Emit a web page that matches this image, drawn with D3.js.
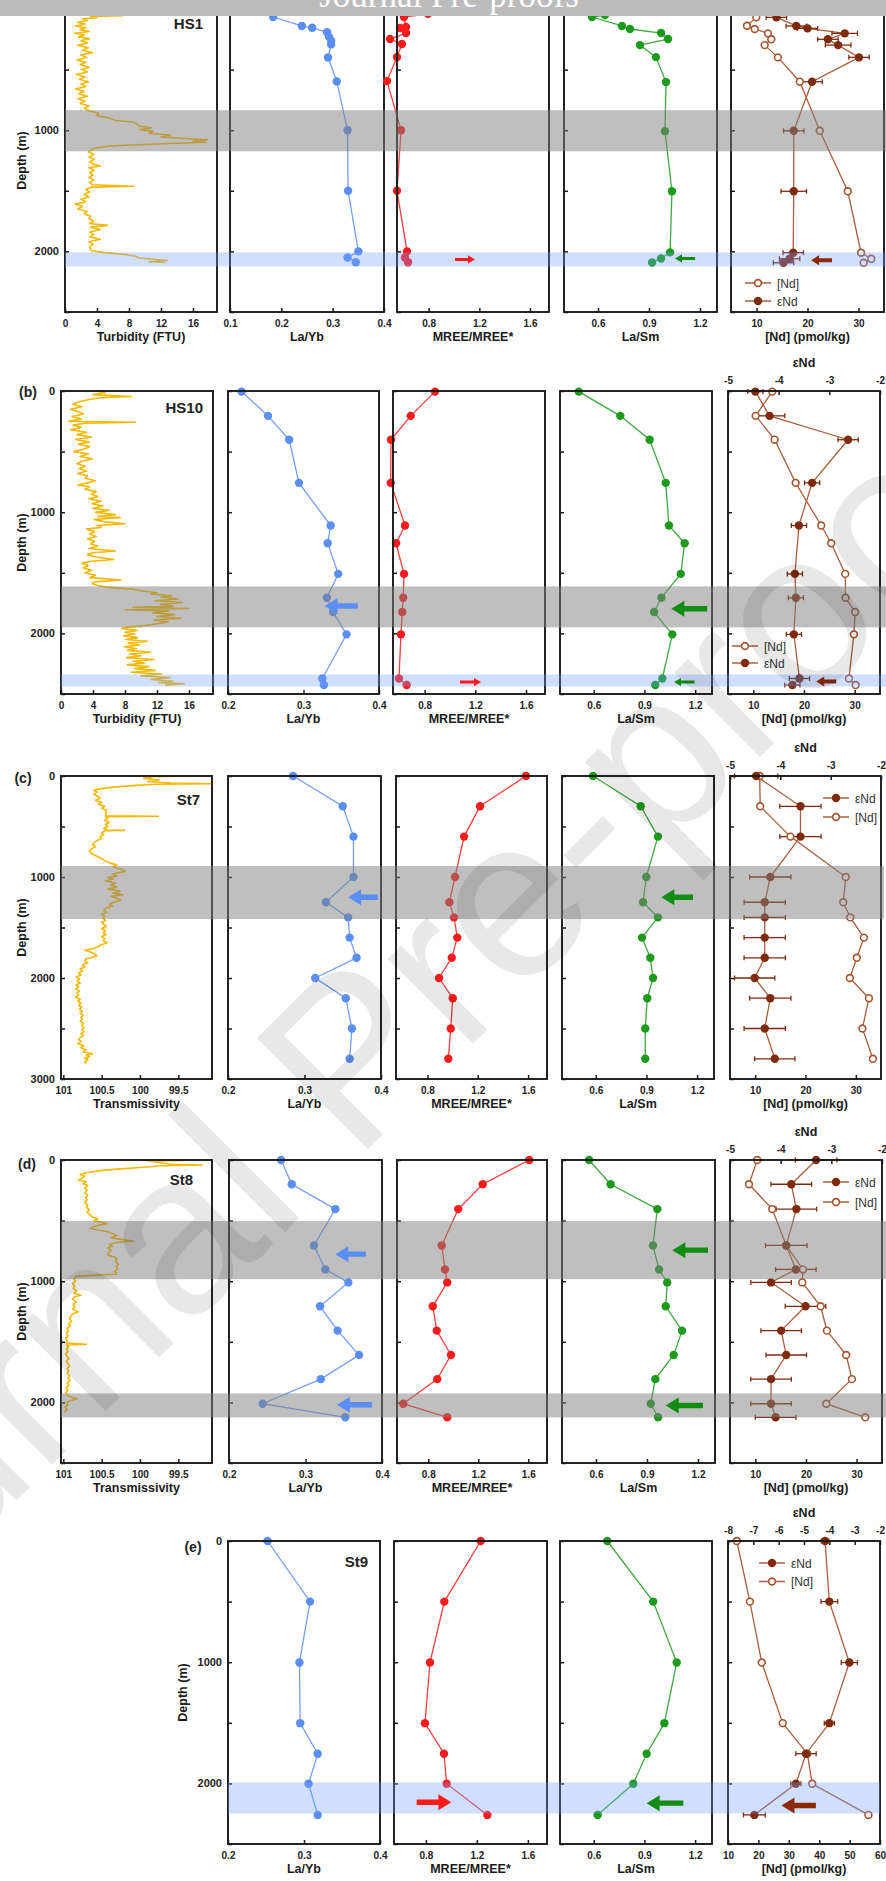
<!DOCTYPE html>
<html>
<head>
<meta charset="utf-8">
<script src="https://cdn.jsdelivr.net/npm/d3@7"></script>
<style>
  body { margin: 0; background: #fff; }
  svg { display: block; font-family: Arial, "Liberation Sans", sans-serif; }
  .tick text { font-size: 10px; font-weight: bold; fill: #222; }
  .tick line { stroke: #1a1a1a; stroke-width: 1.5; }
  .depthAxis .tick text { font-size: 11px; }
  .axTitle { font-size: 12.5px; font-weight: bold; fill: #1a1a1a; }
  .station { font-size: 15px; font-weight: bold; fill: #222; }
  .rowLabel { font-size: 14px; font-weight: bold; fill: #222; }
  .legendText { font-size: 12px; fill: #333; }
</style>
</head>
<body>
<svg id="chart" width="886" height="1881"></svg>
<script>
(function () {
  'use strict';

  // ---------- CTD profiles: [depth (m), value] ----------
  const hs1Turbidity = [[20,3.0],[45,4.2],[55,7.2],[62,3.2],[70,4.0],[80,2.2],[95,2.8],[110,1.6],[125,2.5],[140,1.3],[155,2.6],[170,1.9],[185,3.0],[200,1.2],[215,2.4],[230,1.7],[245,3.1],[260,2.0],[280,2.8],[300,1.6],[320,2.9],[340,2.2],[360,3.4],[380,2.0],[400,2.7],[420,1.5],[440,2.6],[460,1.9],[480,3.0],[500,2.1],[520,2.8],[540,1.4],[560,2.5],[580,1.8],[600,2.9],[620,2.0],[640,2.6],[660,1.3],[680,2.4],[700,1.7],[720,2.8],[740,1.6],[760,2.5],[780,1.9],[800,3.0],[820,2.4],[840,3.0],[860,4.2],[880,4.0],[900,5.5],[920,6.4],[935,8.6],[950,9.0],[965,9.2],[980,10.8],[995,9.4],[1010,11.0],[1025,10.5],[1040,13.2],[1055,12.0],[1070,15.5],[1080,17.8],[1090,16.0],[1100,17.6],[1110,13.0],[1120,9.0],[1130,5.5],[1145,4.0],[1160,3.3],[1180,2.9],[1200,3.6],[1220,3.0],[1240,3.7],[1260,3.1],[1280,3.5],[1295,4.4],[1310,3.0],[1330,3.6],[1350,3.1],[1370,3.5],[1390,3.0],[1410,3.6],[1430,3.1],[1450,3.4],[1463,8.6],[1470,3.3],[1490,2.6],[1510,3.1],[1530,2.4],[1550,3.0],[1570,2.0],[1590,2.6],[1610,1.3],[1630,2.2],[1650,1.6],[1670,2.8],[1690,2.4],[1710,3.2],[1730,3.0],[1750,3.6],[1770,3.1],[1785,5.3],[1800,3.2],[1820,4.4],[1840,3.1],[1860,3.6],[1880,3.1],[1900,4.4],[1920,3.0],[1940,3.5],[1960,3.1],[1980,3.2],[1995,3.3],[2010,5.0],[2025,7.5],[2040,8.8],[2055,9.3],[2065,11.0],[2075,12.8],[2085,10.5],[2092,12.5]];

  const hs10Turbidity = [[0,4.5],[15,5.5],[30,4.0],[45,8.8],[55,5.0],[70,3.5],[90,2.2],[110,1.5],[130,2.6],[150,1.2],[170,2.0],[190,2.8],[210,1.4],[230,2.5],[250,1.0],[258,9.3],[266,3.0],[280,1.5],[300,2.5],[320,1.2],[340,3.2],[360,2.0],[380,3.8],[400,1.8],[420,3.5],[440,2.2],[460,3.6],[480,2.8],[500,1.6],[520,3.4],[540,2.4],[560,3.9],[580,2.6],[600,2.0],[620,3.0],[640,2.3],[660,3.2],[680,2.1],[700,3.3],[720,3.0],[740,4.3],[760,3.2],[775,2.1],[790,3.6],[810,3.0],[830,4.4],[850,3.8],[870,4.6],[890,3.5],[910,5.0],[930,3.9],[950,5.2],[970,4.0],[985,6.0],[1000,4.3],[1020,6.8],[1035,4.6],[1045,7.4],[1060,4.1],[1080,5.5],[1095,8.0],[1110,4.5],[1125,5.0],[1140,3.2],[1160,4.2],[1180,3.6],[1200,4.4],[1220,3.3],[1240,4.2],[1260,3.7],[1280,4.6],[1300,3.5],[1320,6.8],[1335,4.0],[1350,3.3],[1370,4.4],[1390,6.6],[1405,3.8],[1420,2.6],[1440,3.4],[1460,2.8],[1480,3.8],[1500,3.0],[1520,4.3],[1540,3.6],[1560,7.5],[1575,4.2],[1590,3.9],[1605,4.6],[1620,6.0],[1635,9.0],[1650,10.2],[1665,12.0],[1675,11.2],[1690,13.8],[1700,12.5],[1715,14.6],[1730,11.8],[1745,15.2],[1760,12.4],[1775,14.0],[1785,9.0],[1795,16.0],[1805,8.0],[1815,13.5],[1830,11.5],[1845,14.2],[1860,12.0],[1875,15.0],[1890,11.6],[1905,13.4],[1920,12.0],[1935,10.5],[1950,8.2],[1960,7.6],[1975,9.5],[1990,8.0],[2005,9.2],[2020,7.8],[2035,9.6],[2050,8.1],[2065,10.8],[2080,8.4],[2095,9.8],[2110,7.9],[2125,9.4],[2140,8.3],[2155,11.2],[2170,8.6],[2185,10.0],[2200,8.2],[2215,11.6],[2230,9.0],[2245,10.4],[2260,8.3],[2275,11.0],[2290,9.2],[2305,11.8],[2320,8.8],[2335,12.6],[2350,10.0],[2365,13.6],[2380,11.2],[2395,14.0],[2405,12.2],[2415,15.4],[2425,13.0]];

  const st7Transmissivity = [[0,100.13],[3,99.45],[8,99.95],[15,99.85],[25,99.95],[40,99.75],[55,99.9],[70,99.6],[76,99.08],[82,99.8],[95,100.1],[110,100.35],[125,100.5],[140,100.6],[160,100.56],[180,100.6],[200,100.55],[220,100.52],[240,100.58],[260,100.5],[280,100.54],[300,100.46],[320,100.5],[340,100.44],[395,100.45],[399,99.76],[403,100.45],[420,100.42],[440,100.46],[460,100.4],[480,100.45],[500,100.42],[520,100.47],[535,100.43],[538,100.2],[541,100.45],[560,100.5],[580,100.47],[600,100.52],[620,100.5],[640,100.56],[660,100.6],[680,100.62],[700,100.58],[720,100.63],[740,100.66],[760,100.64],[780,100.6],[800,100.55],[820,100.5],[840,100.45],[860,100.4],[880,100.3],[900,100.35],[920,100.25],[944,100.19],[960,100.3],[975,100.36],[990,100.3],[1005,100.42],[1020,100.35],[1040,100.45],[1060,100.32],[1080,100.38],[1100,100.3],[1120,100.42],[1140,100.26],[1160,100.35],[1175,100.22],[1190,100.38],[1210,100.3],[1230,100.25],[1250,100.34],[1270,100.4],[1290,100.36],[1310,100.45],[1330,100.47],[1350,100.43],[1370,100.5],[1390,100.46],[1410,100.48],[1430,100.45],[1450,100.5],[1470,100.47],[1490,100.44],[1510,100.5],[1530,100.45],[1550,100.48],[1570,100.44],[1590,100.5],[1610,100.46],[1630,100.48],[1650,100.43],[1670,100.5],[1690,100.55],[1710,100.62],[1726,100.72],[1740,100.65],[1760,100.6],[1780,100.56],[1795,100.62],[1810,100.7],[1830,100.72],[1850,100.68],[1870,100.75],[1890,100.72],[1910,100.78],[1930,100.75],[1950,100.8],[1970,100.77],[1990,100.83],[2010,100.79],[2030,100.82],[2050,100.78],[2070,100.83],[2090,100.8],[2110,100.84],[2130,100.79],[2150,100.82],[2170,100.8],[2190,100.84],[2210,100.78],[2230,100.81],[2250,100.77],[2270,100.8],[2290,100.76],[2310,100.79],[2330,100.75],[2350,100.78],[2370,100.74],[2390,100.77],[2410,100.75],[2430,100.78],[2450,100.74],[2470,100.76],[2490,100.73],[2510,100.76],[2530,100.73],[2550,100.77],[2570,100.74],[2590,100.78],[2610,100.8],[2630,100.76],[2650,100.81],[2670,100.73],[2690,100.77],[2710,100.7],[2730,100.74],[2750,100.62],[2765,100.7],[2780,100.66],[2795,100.72],[2810,100.68],[2830,100.72],[2845,100.7]];

  const st8Transmissivity = [[0,100.04],[3,99.43],[8,99.9],[20,99.75],[35,99.6],[41,99.19],[48,99.7],[60,99.95],[75,100.3],[90,100.55],[105,100.7],[120,100.78],[135,100.72],[150,100.76],[165,100.8],[180,100.7],[195,100.74],[210,100.68],[230,100.72],[250,100.69],[270,100.72],[290,100.68],[310,100.71],[330,100.69],[350,100.72],[370,100.68],[390,100.7],[410,100.66],[430,100.69],[450,100.66],[470,100.62],[485,100.55],[500,100.6],[515,100.48],[525,100.43],[540,100.55],[555,100.62],[565,100.65],[580,100.52],[595,100.4],[610,100.35],[625,100.3],[640,100.38],[655,100.25],[668,100.09],[680,100.3],[695,100.4],[710,100.36],[725,100.42],[740,100.38],[760,100.4],[785,100.42],[800,100.33],[820,100.3],[840,100.32],[860,100.28],[880,100.31],[900,100.29],[920,100.33],[940,100.3],[950,100.55],[960,100.83],[980,100.86],[1000,100.84],[1020,100.88],[1040,100.85],[1060,100.87],[1080,100.83],[1100,100.86],[1116,100.77],[1130,100.86],[1150,100.88],[1170,100.83],[1190,100.87],[1210,100.85],[1230,100.88],[1253,100.8],[1270,100.88],[1290,100.9],[1310,100.92],[1330,100.89],[1350,100.93],[1370,100.91],[1390,100.95],[1410,100.93],[1430,100.96],[1450,100.94],[1470,100.97],[1490,100.95],[1510,100.96],[1520,100.7],[1526,100.96],[1540,100.93],[1560,100.96],[1580,100.94],[1600,100.97],[1620,100.95],[1640,100.93],[1660,100.96],[1680,100.94],[1700,100.92],[1720,100.95],[1740,100.93],[1760,100.95],[1780,100.92],[1800,100.94],[1820,100.91],[1840,100.95],[1860,100.93],[1880,100.96],[1900,100.94],[1920,100.97],[1940,100.95],[1955,100.9],[1970,100.82],[1985,100.9],[2000,100.96],[2020,100.94],[2040,100.98],[2060,100.95],[2080,100.99]];

  // ---------- REE ratios: [depth (m), value] ----------
  const hs1LaYb  = [[20,0.215],[66,0.184],[140,0.240],[155,0.260],[192,0.289],[230,0.293],[262,0.297],[292,0.297],[400,0.291],[598,0.308],[1000,0.329],[1500,0.330],[2000,0.350],[2050,0.329],[2090,0.345]];
  const hs1Mree  = [[40,0.795],[66,0.605],[149,0.621],[157,0.574],[198,0.621],[248,0.495],[289,0.589],[397,0.550],[595,0.471],[1000,0.582],[1500,0.550],[2000,0.629],[2050,0.613],[2090,0.637]];
  const hs1LaSm  = [[50,0.641],[66,0.565],[140,0.741],[165,0.788],[198,0.971],[248,1.012],[298,0.847],[397,0.941],[603,1.000],[1008,0.994],[1504,1.035],[2008,1.024],[2058,0.971],[2091,0.918]];

  const hs10LaYb = [[5,0.218],[205,0.253],[402,0.281],[758,0.294],[1110,0.336],[1256,0.332],[1509,0.346],[1706,0.331],[1824,0.339],[2008,0.357],[2372,0.325],[2426,0.327]];
  const hs10Mree = [[5,0.882],[205,0.690],[402,0.534],[758,0.532],[1110,0.645],[1256,0.574],[1509,0.637],[1706,0.631],[1824,0.623],[2008,0.613],[2372,0.597],[2426,0.658]];
  const hs10LaSm = [[5,0.511],[205,0.757],[402,0.931],[758,1.026],[1110,1.045],[1256,1.138],[1509,1.115],[1706,1.000],[1824,0.957],[2008,1.065],[2372,1.006],[2426,0.964]];

  const st7LaYb  = [[0,0.285],[300,0.350],[600,0.364],[1000,0.364],[1250,0.328],[1400,0.357],[1600,0.359],[1800,0.368],[2000,0.314],[2200,0.354],[2500,0.362],[2800,0.359]];
  const st7Mree  = [[0,1.583],[300,1.218],[600,1.091],[1000,1.019],[1250,0.974],[1400,1.011],[1600,1.037],[1800,0.993],[2000,0.892],[2200,1.001],[2500,0.985],[2800,0.966]];
  const st7LaSm  = [[0,0.584],[300,0.866],[600,0.968],[1000,0.899],[1250,0.880],[1400,0.968],[1600,0.874],[1800,0.923],[2000,0.939],[2200,0.905],[2500,0.893],[2800,0.893]];

  const st8LaYb  = [[0,0.268],[200,0.282],[405,0.339],[705,0.311],[903,0.326],[1010,0.356],[1207,0.319],[1408,0.342],[1609,0.370],[1808,0.320],[2011,0.244],[2123,0.352]];
  const st8Mree  = [[0,1.608],[200,1.236],[405,1.040],[705,0.908],[903,0.934],[1010,0.952],[1207,0.836],[1408,0.868],[1609,0.982],[1808,0.872],[2011,0.600],[2123,0.952]];
  const st8LaSm  = [[0,0.559],[200,0.686],[405,0.961],[705,0.935],[903,0.971],[1010,1.019],[1207,1.010],[1408,1.106],[1609,1.057],[1808,0.949],[2011,0.922],[2123,0.965]];

  const st9LaYb  = [[0,0.252],[500,0.308],[1003,0.294],[1503,0.295],[1755,0.318],[2003,0.306],[2260,0.318]];
  const st9Mree  = [[0,1.230],[500,0.945],[1003,0.832],[1503,0.793],[1755,0.942],[2003,0.963],[2260,1.282]];
  const st9LaSm  = [[0,0.680],[500,0.952],[1003,1.091],[1503,1.018],[1755,0.913],[2003,0.834],[2260,0.623]];

  // ---------- [Nd] (pmol/kg): [depth, value];  eNd: [depth, value, error] ----------
  const hs1Nd   = [[69,9.96],[138,8.14],[165,9.65],[201,12.25],[250,12.9],[298,11.6],[399,14.2],[600,18.5],[1005,22.4],[1504,27.9],[2011,30.5],[2061,32.5],[2094,31.0]];
  const hs1Eps  = [[69,-4.11,0.2],[140,-3.72,0.2],[160,-3.50,0.2],[201,-2.77,0.25],[250,-3.10,0.2],[298,-2.90,0.25],[399,-2.49,0.2],[600,-3.41,0.2],[1005,-3.77,0.2],[1504,-3.77,0.25],[2011,-3.78,0.2],[2061,-3.85,0.2],[2094,-3.97,0.2]];
  const hs10Nd  = [[5,13.74],[205,10.46],[402,14.21],[758,18.35],[1110,23.4],[1256,25.37],[1509,28.14],[1706,28.2],[1824,30.1],[2008,29.85],[2372,28.87],[2426,30.19]];
  const hs10Eps = [[5,-4.46,0.15],[205,-4.18,0.3],[402,-2.63,0.2],[758,-3.34,0.15],[1110,-3.60,0.15],[1509,-3.68,0.15],[1706,-3.66,0.15],[2008,-3.70,0.15],[2372,-3.59,0.2],[2426,-3.73,0.15]];
  const st7Nd   = [[0,10.9],[300,11.0],[600,17.0],[1000,28.0],[1250,27.5],[1400,28.9],[1600,31.6],[1800,30.2],[2000,28.8],[2200,32.6],[2500,31.3],[2800,33.4]];
  const st7Eps  = [[0,-4.48,0.43],[300,-3.60,0.41],[600,-3.60,0.41],[1000,-4.20,0.41],[1250,-4.31,0.41],[1400,-4.31,0.41],[1600,-4.31,0.41],[1800,-4.31,0.41],[2000,-4.51,0.4],[2200,-4.20,0.41],[2500,-4.31,0.41],[2800,-4.11,0.4]];
  const st8Nd   = [[0,10.38],[200,8.75],[405,13.34],[705,16.1],[903,19.4],[1010,19.26],[1207,22.89],[1408,24.13],[1609,27.94],[1808,29.06],[2011,24.0],[2123,31.69]];
  const st8Eps  = [[0,-3.30,0.41],[200,-3.79,0.4],[405,-3.69,0.4],[705,-3.89,0.41],[903,-3.70,0.4],[1010,-4.19,0.4],[1207,-3.51,0.4],[1408,-3.99,0.4],[1609,-3.89,0.4],[1808,-4.19,0.4],[2011,-4.19,0.4],[2123,-4.10,0.4]];
  const st9Nd   = [[0,12.9],[500,17.2],[1003,21.1],[1503,28.0],[1755,36.1],[2003,37.7],[2260,56.2]];
  const st9Eps  = [[0,-4.17,0.15],[500,-4.0,0.33],[1003,-3.21,0.32],[1503,-4.0,0.2],[1755,-4.92,0.4],[2003,-5.32,0.2],[2260,-6.96,0.43]];

  // ---------- axis ticks / labels ----------
  const turbTicks  = [0, 4, 8, 12, 16];
  const transTicks = [101, 100.5, 100, 99.5];
  const laybTicks  = [0.2, 0.3, 0.4];
  const mreeTicks  = [0.8, 1.2, 1.6];
  const lasmTicks  = [0.6, 0.9, 1.2];
  const ndTicks    = [10, 20, 30];
  const epsTicks   = [-5, -4, -3, -2];
  const ndTicksE   = [10, 20, 30, 40, 50, 60];
  const epsTicksE  = [-8, -7, -6, -5, -4, -3, -2];

  const mreeDomain = [0.55, 1.75];
  const lasmDomain = [0.4, 1.3];

  const colors = {
    ctd: '#f6b800', layb: '#5b8ef0', mree: '#fa1c1c', lasm: '#1c9a1c',
    ndOpen: '#a5532e', ndFill: '#7e2a0c', ndLine: '#a95f3d',
    arrowBlue: '#5b8ef5', arrowRed: '#ff1a1a', arrowGreen: '#128c12', arrowBrown: '#8a2a08'
  };

  const rows = [
    { label: '(a)', labelPos: [28, 12], station: 'HS1', stationPos: [203, 29],
      top: 9, bottom: 312, depthMax: 2500, depthTitleX: 22, epsAxis: false,
      panels: [
        { key: 'ctd', kind: 'ctd', data: hs1Turbidity, x: [65, 217], domain: [0, 19], ticks: turbTicks, title: 'Turbidity (FTU)', depthLabels: true },
        { key: 'layb', kind: 'ratio', data: hs1LaYb, color: colors.layb, x: [230, 384], domain: [0.1, 0.4], ticks: [0.1, 0.2, 0.3, 0.4], title: 'La/Yb' },
        { key: 'mree', kind: 'ratio', data: hs1Mree, color: colors.mree, x: [397, 549], domain: mreeDomain, ticks: mreeTicks, title: 'MREE/MREE*' },
        { key: 'lasm', kind: 'ratio', data: hs1LaSm, color: colors.lasm, x: [564, 717], domain: lasmDomain, ticks: lasmTicks, title: 'La/Sm' },
        { key: 'nd', kind: 'nd', nd: hs1Nd, eps: hs1Eps, x: [731, 884], domain: [5, 35], ticks: ndTicks, epsDomain: [-5, -2], epsTicks: epsTicks, title: '[Nd] (pmol/kg)' }
      ],
      bandX: [65, 886],
      bands: [{ from: 835, to: 1174, type: 'gray' }, { from: 2008, to: 2124, type: 'blue' }],
      arrows: [
        { panel: 'mree', depth: 2066, from: 1.008, to: 1.166, size: 's', color: colors.arrowRed },
        { panel: 'lasm', depth: 2058, from: 1.171, to: 1.053, size: 's', color: colors.arrowGreen },
        { panel: 'nd', depth: 2074, from: 24.8, to: 20.7, size: 'm', color: colors.arrowBrown }
      ],
      legend: { x: 758, y: 283, gap: 18, order: ['nd', 'eps'] }
    },
    { label: '(b)', labelPos: [28, 397], station: 'HS10', stationPos: [203, 413],
      top: 391, bottom: 694, depthMax: 2500, depthTitleX: 22, epsAxis: true,
      panels: [
        { key: 'ctd', kind: 'ctd', data: hs10Turbidity, x: [61, 213], domain: [0, 19], ticks: turbTicks, title: 'Turbidity (FTU)', depthLabels: true },
        { key: 'layb', kind: 'ratio', data: hs10LaYb, color: colors.layb, x: [228, 379], domain: [0.2, 0.4], ticks: laybTicks, title: 'La/Yb' },
        { key: 'mree', kind: 'ratio', data: hs10Mree, color: colors.mree, x: [393, 545], domain: mreeDomain, ticks: mreeTicks, title: 'MREE/MREE*' },
        { key: 'lasm', kind: 'ratio', data: hs10LaSm, color: colors.lasm, x: [560, 712], domain: lasmDomain, ticks: lasmTicks, title: 'La/Sm' },
        { key: 'nd', kind: 'nd', nd: hs10Nd, eps: hs10Eps, x: [728, 880], domain: [5, 35], ticks: ndTicks, epsDomain: [-5, -2], epsTicks: epsTicks, title: '[Nd] (pmol/kg)' }
      ],
      bandX: [61, 886],
      bands: [{ from: 1612, to: 1950, type: 'gray' }, { from: 2339, to: 2438, type: 'blue' }],
      arrows: [
        { panel: 'layb', depth: 1774, from: 0.372, to: 0.328, size: 'l', color: colors.arrowBlue },
        { panel: 'mree', depth: 2402, from: 1.079, to: 1.245, size: 's', color: colors.arrowRed },
        { panel: 'lasm', depth: 1796, from: 1.272, to: 1.059, size: 'l', color: colors.arrowGreen },
        { panel: 'lasm', depth: 2402, from: 1.197, to: 1.075, size: 's', color: colors.arrowGreen },
        { panel: 'nd', depth: 2397, from: 26.36, to: 22.41, size: 'm', color: colors.arrowBrown }
      ],
      legend: { x: 745, y: 646, gap: 17, order: ['nd', 'eps'] }
    },
    { label: '(c)', labelPos: [23, 783], station: 'St7', stationPos: [200, 805],
      top: 776, bottom: 1079, depthMax: 3000, depthTitleX: 22, epsAxis: true,
      panels: [
        { key: 'ctd', kind: 'ctd', data: st7Transmissivity, x: [61, 212], domain: [101.03, 99.06], ticks: transTicks, title: 'Transmissivity', depthLabels: true },
        { key: 'layb', kind: 'ratio', data: st7LaYb, color: colors.layb, x: [228, 381], domain: [0.2, 0.4], ticks: laybTicks, title: 'La/Yb' },
        { key: 'mree', kind: 'ratio', data: st7Mree, color: colors.mree, x: [396, 547], domain: mreeDomain, ticks: mreeTicks, title: 'MREE/MREE*' },
        { key: 'lasm', kind: 'ratio', data: st7LaSm, color: colors.lasm, x: [562, 714], domain: lasmDomain, ticks: lasmTicks, title: 'La/Sm' },
        { key: 'nd', kind: 'nd', nd: st7Nd, eps: st7Eps, x: [730, 881], domain: [5, 35], ticks: ndTicks, epsDomain: [-5, -2], epsTicks: epsTicks, title: '[Nd] (pmol/kg)' }
      ],
      bandX: [61, 884],
      bands: [{ from: 891, to: 1416, type: 'gray' }],
      arrows: [
        { panel: 'layb', depth: 1201, from: 0.396, to: 0.357, size: 'l', color: colors.arrowBlue },
        { panel: 'lasm', depth: 1201, from: 1.176, to: 0.988, size: 'l', color: colors.arrowGreen }
      ],
      legend: { x: 836, y: 798, gap: 19, order: ['eps', 'nd'] }
    },
    { label: '(d)', labelPos: [27, 1169], station: 'St8', stationPos: [193, 1185],
      top: 1160, bottom: 1463, depthMax: 2500, depthTitleX: 22, epsAxis: true,
      panels: [
        { key: 'ctd', kind: 'ctd', data: st8Transmissivity, x: [61, 212], domain: [101.03, 99.06], ticks: transTicks, title: 'Transmissivity', depthLabels: true },
        { key: 'layb', kind: 'ratio', data: st8LaYb, color: colors.layb, x: [229, 382], domain: [0.2, 0.4], ticks: laybTicks, title: 'La/Yb' },
        { key: 'mree', kind: 'ratio', data: st8Mree, color: colors.mree, x: [397, 547], domain: mreeDomain, ticks: mreeTicks, title: 'MREE/MREE*' },
        { key: 'lasm', kind: 'ratio', data: st8LaSm, color: colors.lasm, x: [562, 715], domain: lasmDomain, ticks: lasmTicks, title: 'La/Sm' },
        { key: 'nd', kind: 'nd', nd: st8Nd, eps: st8Eps, x: [730, 882], domain: [5, 35], ticks: ndTicks, epsDomain: [-5, -2], epsTicks: epsTicks, title: '[Nd] (pmol/kg)' }
      ],
      bandX: [61, 886],
      bands: [{ from: 504, to: 983, type: 'gray' }, { from: 1926, to: 2124, type: 'gray' }],
      arrows: [
        { panel: 'layb', depth: 777, from: 0.379, to: 0.339, size: 'l', color: colors.arrowBlue },
        { panel: 'layb', depth: 2019, from: 0.387, to: 0.341, size: 'l', color: colors.arrowBlue },
        { panel: 'lasm', depth: 744, from: 1.259, to: 1.049, size: 'l', color: colors.arrowGreen },
        { panel: 'lasm', depth: 2025, from: 1.229, to: 1.010, size: 'l', color: colors.arrowGreen }
      ],
      legend: { x: 836, y: 1182, gap: 20, order: ['eps', 'nd'] }
    },
    { label: '(e)', labelPos: [193, 1552], station: 'St9', stationPos: [368, 1567],
      top: 1541, bottom: 1844, depthMax: 2500, depthTitleX: 183, epsAxis: true,
      panels: [
        { key: 'layb', kind: 'ratio', data: st9LaYb, color: colors.layb, x: [228, 380], domain: [0.2, 0.4], ticks: laybTicks, title: 'La/Yb', depthLabels: true },
        { key: 'mree', kind: 'ratio', data: st9Mree, color: colors.mree, x: [394, 547], domain: mreeDomain, ticks: mreeTicks, title: 'MREE/MREE*' },
        { key: 'lasm', kind: 'ratio', data: st9LaSm, color: colors.lasm, x: [560, 712], domain: lasmDomain, ticks: lasmTicks, title: 'La/Sm' },
        { key: 'nd', kind: 'nd', nd: st9Nd, eps: st9Eps, x: [728, 880], domain: [10, 60], ticks: ndTicksE, epsDomain: [-8, -2], epsTicks: epsTicksE, title: '[Nd] (pmol/kg)' }
      ],
      bandX: [228, 880],
      bands: [{ from: 1992, to: 2248, type: 'blue' }],
      arrows: [
        { panel: 'mree', depth: 2155, from: 0.728, to: 1.0, size: 'l', color: colors.arrowRed },
        { panel: 'lasm', depth: 2163, from: 1.130, to: 0.913, size: 'l', color: colors.arrowGreen },
        { panel: 'nd', depth: 2182, from: 38.9, to: 27.6, size: 'l', color: colors.arrowBrown }
      ],
      legend: { x: 772, y: 1563, gap: 18.5, order: ['eps', 'nd'] }
    }
  ];

  const svg = d3.select('#chart');
  svg.append('rect').attr('width', 886).attr('height', 1881).attr('fill', '#fff');

  const plotLayer = svg.append('g');
  const bandLayer = svg.append('g');
  const arrowLayer = svg.append('g');

  const arrowSizes = { s: [1.5, 4.2, 7], m: [2, 5, 8], l: [2.7, 8, 13] };

  function styleAxis(g) {
    g.select('.domain').remove();
  }

  rows.forEach(row => {
    const y = d3.scaleLinear().domain([0, row.depthMax]).range([row.top, row.bottom]);
    const scales = {};

    row.panels.forEach(p => {
      const g = plotLayer.append('g');
      const x = d3.scaleLinear().domain(p.domain).range(p.x);
      scales[p.key] = x;

      // depth axis (ticks every 500 m, labels every 1000 m on first panel)
      const yAxis = d3.axisLeft(y)
        .tickValues(d3.range(0, row.depthMax + 1, 500))
        .tickSizeInner(-4).tickSizeOuter(0).tickPadding(6)
        .tickFormat(d => (p.depthLabels && d % 1000 === 0) ? String(d) : '');
      g.append('g').attr('class', 'depthAxis')
        .attr('transform', `translate(${p.x[0]},0)`)
        .call(yAxis).call(styleAxis);

      const xAxis = d3.axisBottom(x)
        .tickValues(p.ticks).tickSizeInner(-4).tickSizeOuter(0).tickPadding(8)
        .tickFormat(d => String(d));
      g.append('g').attr('transform', `translate(0,${row.bottom})`)
        .call(xAxis).call(styleAxis);

      g.append('text').attr('class', 'axTitle')
        .attr('x', (p.x[0] + p.x[1]) / 2).attr('y', row.bottom + 29)
        .attr('text-anchor', 'middle').text(p.title);

      if (p.kind === 'ctd') {
        g.append('path').datum(p.data)
          .attr('fill', 'none').attr('stroke', colors.ctd).attr('stroke-width', 1.6)
          .attr('stroke-linejoin', 'round')
          .attr('d', d3.line().x(d => x(d[1])).y(d => y(d[0])));
      }

      if (p.kind === 'ratio') {
        g.append('path').datum(p.data)
          .attr('fill', 'none').attr('stroke', p.color).attr('stroke-width', 1.3).attr('stroke-opacity', 0.85)
          .attr('d', d3.line().x(d => x(d[1])).y(d => y(d[0])));
        g.selectAll('circle.pt').data(p.data).enter().append('circle')
          .attr('class', 'pt')
          .attr('cx', d => x(d[1])).attr('cy', d => y(d[0])).attr('r', 4.2)
          .attr('fill', p.color);
      }

      if (p.kind === 'nd') {
        const xe = d3.scaleLinear().domain(p.epsDomain).range(p.x);
        scales.eps = xe;

        if (row.epsAxis) {
          const topAxis = d3.axisTop(xe).tickValues(p.epsTicks)
            .tickSizeInner(-4).tickSizeOuter(0).tickPadding(7).tickFormat(d => String(d));
          g.append('g').attr('transform', `translate(0,${row.top})`)
            .call(topAxis).call(styleAxis);
          g.append('text').attr('class', 'axTitle')
            .attr('x', (p.x[0] + p.x[1]) / 2).attr('y', row.top - 24)
            .attr('text-anchor', 'middle').text('εNd');
        }

        g.append('path').datum(p.nd)
          .attr('fill', 'none').attr('stroke', colors.ndLine).attr('stroke-width', 1.3)
          .attr('d', d3.line().x(d => x(d[1])).y(d => y(d[0])));
        g.append('path').datum(p.eps)
          .attr('fill', 'none').attr('stroke', colors.ndLine).attr('stroke-width', 1.3)
          .attr('d', d3.line().x(d => xe(d[1])).y(d => y(d[0])));

        // eNd error bars
        const eb = g.selectAll('g.err').data(p.eps).enter().append('g').attr('class', 'err')
          .attr('stroke', colors.ndFill).attr('stroke-width', 1.3);
        eb.append('line')
          .attr('x1', d => xe(d[1] - d[2])).attr('x2', d => xe(d[1] + d[2]))
          .attr('y1', d => y(d[0])).attr('y2', d => y(d[0]));
        eb.append('line')
          .attr('x1', d => xe(d[1] - d[2])).attr('x2', d => xe(d[1] - d[2]))
          .attr('y1', d => y(d[0]) - 2.5).attr('y2', d => y(d[0]) + 2.5);
        eb.append('line')
          .attr('x1', d => xe(d[1] + d[2])).attr('x2', d => xe(d[1] + d[2]))
          .attr('y1', d => y(d[0]) - 2.5).attr('y2', d => y(d[0]) + 2.5);

        g.selectAll('circle.open').data(p.nd).enter().append('circle')
          .attr('class', 'open')
          .attr('cx', d => x(d[1])).attr('cy', d => y(d[0])).attr('r', 3.4)
          .attr('fill', '#fff').attr('stroke', colors.ndOpen).attr('stroke-width', 1.6);
        g.selectAll('circle.fill').data(p.eps).enter().append('circle')
          .attr('class', 'fill')
          .attr('cx', d => xe(d[1])).attr('cy', d => y(d[0])).attr('r', 4.2)
          .attr('fill', colors.ndFill);

        // legend
        const lg = row.legend;
        lg.order.forEach((k, i) => {
          const ly = lg.y + i * lg.gap;
          g.append('line').attr('x1', lg.x - 13).attr('x2', lg.x + 13).attr('y1', ly).attr('y2', ly)
            .attr('stroke', colors.ndLine).attr('stroke-width', 1.5);
          if (k === 'nd') {
            g.append('circle').attr('cx', lg.x).attr('cy', ly).attr('r', 3.4)
              .attr('fill', '#fff').attr('stroke', colors.ndOpen).attr('stroke-width', 1.6);
          } else {
            g.append('circle').attr('cx', lg.x).attr('cy', ly).attr('r', 4.2).attr('fill', colors.ndFill);
          }
          g.append('text').attr('class', 'legendText')
            .attr('x', lg.x + 19).attr('y', ly + 4.5)
            .text(k === 'nd' ? '[Nd]' : 'εNd');
        });
      }

      g.append('rect')
        .attr('x', p.x[0]).attr('y', row.top)
        .attr('width', p.x[1] - p.x[0]).attr('height', row.bottom - row.top)
        .attr('fill', 'none').attr('stroke', '#1a1a1a').attr('stroke-width', 1.9);
    });

    // depth title, row label, station
    plotLayer.append('text').attr('class', 'axTitle')
      .attr('transform', `translate(${row.depthTitleX + 4},${(row.top + row.bottom) / 2}) rotate(-90)`)
      .attr('text-anchor', 'middle').text('Depth (m)');
    plotLayer.append('text').attr('class', 'rowLabel')
      .attr('x', row.labelPos[0]).attr('y', row.labelPos[1])
      .attr('text-anchor', 'middle').text(row.label);
    plotLayer.append('text').attr('class', 'station')
      .attr('x', row.stationPos[0]).attr('y', row.stationPos[1])
      .attr('text-anchor', 'end').text(row.station);

    // highlighted depth bands (drawn over the data)
    row.bands.forEach(b => {
      bandLayer.append('rect')
        .attr('x', row.bandX[0]).attr('width', row.bandX[1] - row.bandX[0])
        .attr('y', y(b.from)).attr('height', y(b.to) - y(b.from))
        .attr('fill', b.type === 'gray' ? '#808080' : '#6f9fff')
        .attr('fill-opacity', b.type === 'gray' ? 0.5 : 0.33);
    });

    // arrows
    row.arrows.forEach(a => {
      const x = scales[a.panel];
      const x0 = x(a.from), x1 = x(a.to), yy = y(a.depth);
      const [h, H, L] = arrowSizes[a.size];
      const s = Math.sign(x1 - x0);
      const xb = x1 - s * L;
      const pts = [[x0, yy - h], [xb, yy - h], [xb, yy - H], [x1, yy], [xb, yy + H], [xb, yy + h], [x0, yy + h]];
      arrowLayer.append('polygon')
        .attr('points', pts.map(q => q.join(',')).join(' '))
        .attr('fill', a.color);
    });
  });

  // watermark
  svg.append('text')
    .attr('transform', 'translate(-219,1736) rotate(-45)')
    .attr('font-family', 'Arial, "Liberation Sans", sans-serif')
    .attr('font-size', 228)
    .attr('fill', '#000').attr('fill-opacity', 0.09)
    .text('Journal Pre-proof');

  // banner
  svg.append('rect').attr('x', 0).attr('y', 0).attr('width', 886).attr('height', 16).attr('fill', '#bcbcbc');
  svg.append('text')
    .attr('x', 449).attr('y', 7)
    .attr('text-anchor', 'middle')
    .attr('font-family', '"Liberation Serif", "Times New Roman", serif')
    .attr('font-size', 35).attr('fill', '#fff')
    .text('Journal Pre-proofs');
}());
</script>
</body>
</html>
